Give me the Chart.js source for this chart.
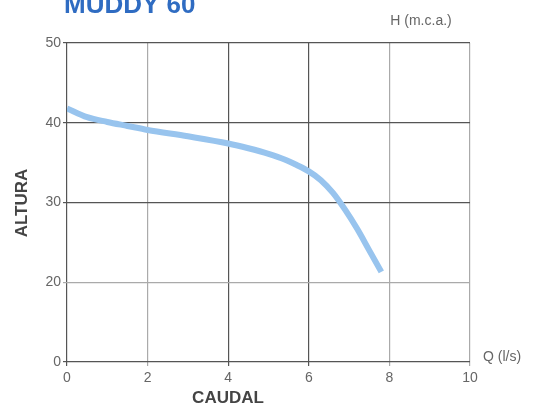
<!DOCTYPE html>
<html>
<head>
<meta charset="utf-8">
<script src="https://cdn.jsdelivr.net/npm/chart.js@4"></script>
<style>
  html, body { margin: 0; padding: 0; background: #fff; }
  #wrap { width: 543px; height: 407px; }
</style>
</head>
<body>
<div id="wrap"><canvas id="curve"></canvas></div>
<script>
// Caudal (l/s) vs altura (m.c.a.)
var caudal = [0, 0.5, 1, 1.5, 2, 3, 4, 4.5, 5, 5.4, 5.7, 6, 6.3, 6.6, 6.9, 7.2, 7.5, 7.8];
var altura = [41.8, 40.7, 40.1, 39.6, 39.1, 38.3, 37.4, 36.8, 36.1, 35.4, 34.7, 33.9, 32.8, 31.2, 29.1, 26.7, 24.0, 21.3];
var xTicks = [0, 2, 4, 6, 8, 10];
var yTicks = [10, 20, 30, 40, 50];
var yTickLabels = ['0', '20', '30', '40', '50'];

var points = caudal.map(function(q, i) { return { x: q, y: altura[i] }; });

var labelsPlugin = {
    id: 'labels',
    afterDraw: function(chart) {
        var ctx = chart.ctx;
        ctx.save();
        ctx.fillStyle = '#2f6cc2';
        ctx.font = 'bold 26px "Liberation Sans", Arial, sans-serif';
        ctx.textAlign = 'left';
        ctx.textBaseline = 'alphabetic';
        ctx.fillText('MUDDY 60', 64, 13);

        ctx.fillStyle = '#666';
        ctx.font = '14px "Liberation Sans", Arial, sans-serif';
        ctx.textAlign = 'center';
        ctx.fillText('H (m.c.a.)', 421, 25);
        ctx.textAlign = 'left';
        ctx.fillText('Q (l/s)', 483, 361);

        ctx.fillStyle = '#444';
        ctx.font = 'bold 17px "Liberation Sans", Arial, sans-serif';
        ctx.textAlign = 'center';
        ctx.textBaseline = 'middle';
        ctx.fillText('CAUDAL', 228, 398);
        ctx.translate(22, 203);
        ctx.rotate(-Math.PI / 2);
        ctx.fillText('ALTURA', 0, 0);
        ctx.restore();
    }
};

function gridColor(ctx, darkOnes) {
    var v = ctx.tick ? ctx.tick.value : null;
    return darkOnes.indexOf(v) >= 0 ? '#555' : '#aaa';
}

new Chart(document.getElementById('curve').getContext('2d'), {
    type: 'line',
    data: {
        datasets: [{
            data: points,
            borderColor: '#98c4ee',
            borderWidth: 6,
            pointRadius: 0,
            cubicInterpolationMode: 'monotone',
            fill: false
        }]
    },
    options: {
        responsive: true,
        maintainAspectRatio: false,
        animation: false,
        layout: { padding: { left: 0, right: 73, top: 43, bottom: 0 } },
        plugins: { legend: { display: false }, tooltip: { enabled: false } },
        scales: {
            x: {
                type: 'linear',
                min: 0, max: 10,
                afterFit: function(s) { s.height = 45; },
                afterBuildTicks: function(s) { s.ticks = xTicks.map(function(v) { return { value: v }; }); },
                grid: {
                    color: function(ctx) { return gridColor(ctx, [0, 4, 6]); },
                    lineWidth: 1.2,
                    tickLength: 4
                },
                border: { display: false },
                ticks: {
                    color: '#666',
                    font: { family: '"Liberation Sans", Arial, sans-serif', size: 14 },
                    padding: 4,
                    maxRotation: 0
                }
            },
            y: {
                type: 'linear',
                min: 10, max: 50,
                afterFit: function(s) { s.width = 67; },
                afterBuildTicks: function(s) { s.ticks = yTicks.map(function(v) { return { value: v }; }); },
                grid: {
                    color: function(ctx) { return gridColor(ctx, [10, 30, 40, 50]); },
                    lineWidth: 1.2,
                    tickLength: 4
                },
                border: { display: false },
                ticks: {
                    color: '#666',
                    font: { family: '"Liberation Sans", Arial, sans-serif', size: 14 },
                    padding: 2,
                    callback: function(v) { return yTickLabels[yTicks.indexOf(v)]; }
                }
            }
        }
    },
    plugins: [labelsPlugin]
});
</script>
</body>
</html>
